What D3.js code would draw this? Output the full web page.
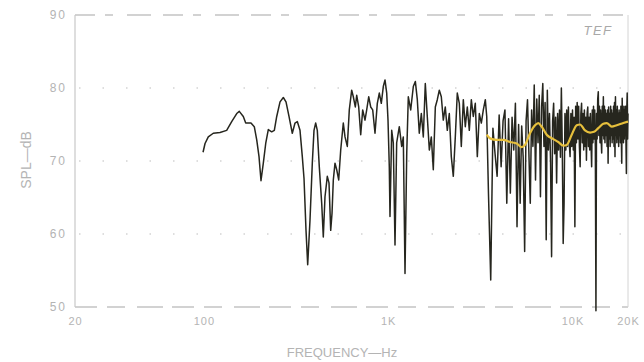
<!DOCTYPE html>
<html><head><meta charset="utf-8">
<script src="https://cdn.jsdelivr.net/npm/d3@7"></script>
<style>
html,body{margin:0;padding:0;background:#fff;}
svg{display:block;}
text{font-family:"Liberation Sans",Arial,sans-serif;}
</style></head>
<body><svg id="c" width="644" height="362"></svg>
<script>
// ---- data ----
const yTicks = [50, 60, 70, 80, 90];
const yTickLabels = ["50", "60", "70", "80", "90"];
const xTicks = [20, 100, 1000, 10000, 20000];
const xTickLabels = ["20", "100", "1K", "10K", "20K"];

// low/mid frequency response (Hz)
const lfFreq = [99,101.5,105.7,112.5,122.4,133,141.6,150.8,155.7,163.7,168.7,174.3,180.2,187.8,193.6,199.2,204.2,210.2,216.6,223.7,233.4,241.2,248.5,259,269.9,279.1,289.7,301.9,312.3,321.4,332.4,342.1,349.5,358.3,365.9,376.6,387.6,395.9,404.4,412.6,423,435.9,444.7,454.2,467.5,477.5,487.8,495.8,503.9,514.7,525.8,539,552.7,570.9,583.2,600.2,615.3,634,646.9,663.3,675,692,709.6,727.4,748.7,764.7,784.1,803.9,824.2,848.3,873,895.1,917.7,941,961.1,981.8,997.9,1014,1023,1045,1066,1089,1112,1149,1184,1208,1234,1261,1286,1325,1369,1404,1439,1475,1513,1551,1590,1630,1672,1714,1757,1802,1847,1894,1942,1991,2041,2093,2146,2200,2256,2313,2371,2432,2493,2556,2621,2687,2755,2825,2896,2969,3045,3122,3201,3282,3365,3425];
const lfDb = [71.2,72.4,73.3,73.8,73.9,74.2,75.4,76.5,76.8,76.1,75.2,75.2,75.2,74.7,72.9,70.6,67.3,69.7,72.4,74.3,74.0,74.2,76.1,78.1,78.7,78.1,76.1,73.8,75.2,75.4,74.2,70.6,67.6,60.5,55.8,61.9,69.7,74.2,75.2,74.2,69.2,64.2,59.6,65.1,67.9,67.0,60.5,62.8,67.4,69.7,68.8,67.4,71.5,75.2,73.3,72.0,77.0,79.7,78.8,77.4,79.0,77.4,73.6,77.0,75.6,77.0,78.8,77.4,77.0,73.8,77.9,79.3,77.9,80.2,81.1,79.3,75.6,69.2,62.4,74.2,72.5,58.5,72.5,74.7,72.0,73.3,54.6,71.1,78.8,77.0,80.2,80.9,78.4,73.8,76.5,73.3,80.6,76.1,71.5,73.3,68.8,77.4,78.4,79.7,78.8,75.6,77.4,74.2,76.5,70.6,67.9,73.3,79.3,77.9,72.0,78.4,74.7,77.4,74.2,78.4,76.1,77.9,70.6,76.5,75.2,77.0,78.4,76.1];

// high frequency response: linear sweep 3.5 kHz .. 20 kHz, 100 Hz step
const hfStartHz = 3500, hfStepHz = 100;
const hfDb = [
65.6,53.7,74.5,71.0,67.9,76.3,69.2,75.5,77.0,64.2,
75.8,65.6,76.0,71.5,77.9,61.0,75.0,64.2,74.8,70.5,
57.6,75.5,78.4,71.0,64.2,77.0,72.0,80.4,67.4,78.5,
72.5,79.0,65.1,77.5,80.6,72.0,78.0,59.2,79.7,71.5,
76.5,70.0,56.9,75.5,77.9,71.0,76.0,67.0,76.5,71.5,
77.0,70.5,80.0,72.0,58.7,64.2,76.5,71.5,77.0,72.0,
77.4,72.5,70.6,76.5,72.0,77.0,71.5,76.0,61.0,77.5,
72.5,78.0,73.0,77.5,72.0,69.2,76.5,77.9,72.5,76.5,
71.5,77.0,72.0,76.0,70.1,76.5,77.4,72.0,76.0,71.5,
76.5,72.5,69.2,77.0,72.5,77.5,73.0,77.0,72.0,49.5,
76.5,73.0,78.5,79.5,73.5,77.5,72.5,77.0,73.0,71.1,
77.5,73.5,78.8,73.0,77.5,72.5,77.0,73.5,76.5,72.0,
77.0,69.7,77.4,73.0,76.5,72.0,77.5,73.5,77.0,72.5,
76.5,73.0,77.5,72.0,78.0,70.6,78.8,73.5,77.0,72.5,
77.5,73.0,76.5,72.0,77.0,73.5,76.5,72.5,77.5,73.0,
69.7,78.6,73.5,77.0,72.5,77.5,73.0,77.0,73.5,77.5,
72.5,68.3,77.0,79.3,73.0,76.5];

// smoothed (yellow) curve
const avgFreq = [3423,3567,3879,4213,4580,4981,5302,5525,5883,6259,6522,6805,7244,7867,8375,8915,9302,9901,10540,10980,11690,12450,13080,13800,14690,15330,16320,17370,18860,20000];
const avgDb = [73.6,73.1,72.9,72.9,72.6,72.4,71.9,72.2,73.8,74.9,75.2,74.7,73.6,73.0,72.6,72.1,72.2,73.6,74.9,75.0,74.2,73.9,74.0,74.5,75.1,75.2,74.7,74.9,75.2,75.4];

// ---- drawing ----
const svg = d3.select("#c");
const L = 75, R = 628, T = 15, B = 307;
const x = d3.scaleLog().domain([20, 20000]).range([L, R]);
const y = d3.scaleLinear().domain([50, 90]).range([B, T]);
const faint = "#b4b4b4";

// grid (sparse dots)
svg.append("g").selectAll("line").data([60, 70, 80]).join("line")
  .attr("x1", L + 4).attr("x2", R).attr("y1", d => y(d)).attr("y2", d => y(d))
  .attr("stroke", "#bdbdbd").attr("stroke-width", 1.2).attr("stroke-dasharray", "1.5,22");

// frame
svg.append("line").attr("x1", L).attr("x2", R).attr("y1", T).attr("y2", T)
  .attr("stroke", "#c4c4c4").attr("stroke-width", 1.3).attr("stroke-dasharray", "20,10,8,14,24,12");
svg.append("line").attr("x1", L).attr("x2", R).attr("y1", B).attr("y2", B)
  .attr("stroke", "#c4c4c4").attr("stroke-width", 1.3).attr("stroke-dasharray", "22,10,18,12,26,9");
svg.append("line").attr("x1", L).attr("x2", L).attr("y1", T).attr("y2", B)
  .attr("stroke", "#c8c8c8").attr("stroke-width", 1.2);
svg.append("line").attr("x1", R).attr("x2", R).attr("y1", T).attr("y2", B)
  .attr("stroke", "#d4d4d4").attr("stroke-width", 1);

// axes
const yAxis = d3.axisLeft(y).tickValues(yTicks).tickSize(0).tickPadding(8)
  .tickFormat((d, i) => yTickLabels[i]);
const gy = svg.append("g").attr("transform", `translate(${L},0)`).call(yAxis);
gy.select(".domain").remove();
gy.selectAll("text").attr("fill", faint).style("font-size", "12px").style("letter-spacing", "2px");

const xAxis = d3.axisBottom(x).tickValues(xTicks).tickSize(0).tickPadding(10)
  .tickFormat((d, i) => xTickLabels[i]);
const gx = svg.append("g").attr("transform", `translate(0,${B})`).call(xAxis);
gx.select(".domain").remove();
gx.selectAll("text").attr("fill", faint).style("font-size", "11px").style("letter-spacing", "1px");

// titles
svg.append("text").attr("transform", "translate(31,160) rotate(-90)").attr("text-anchor", "middle")
  .attr("fill", faint).style("font-size", "14px").text("SPL—dB");
svg.append("text").attr("x", 342).attr("y", 357).attr("text-anchor", "middle")
  .attr("fill", faint).style("font-size", "13px").text("FREQUENCY—Hz");
svg.append("text").attr("x", 598).attr("y", 35).attr("text-anchor", "middle")
  .attr("fill", "#a8a8a8").style("font-size", "13px").style("font-style", "italic")
  .style("letter-spacing", "1.5px").text("TEF");

// response curve
const lf = lfFreq.map((f, i) => [f, lfDb[i]]);
const hf = hfDb.map((v, i) => [hfStartHz + i * hfStepHz, v]);
const line = d3.line().x(d => x(d[0])).y(d => y(d[1]));
svg.append("path").datum(lf.concat(hf)).attr("d", line)
  .attr("fill", "none").attr("stroke", "#26261e").attr("stroke-width", 1.5)
  .attr("stroke-linejoin", "round");

// smoothed curve
const avg = avgFreq.map((f, i) => [f, avgDb[i]]);
svg.append("path").datum(avg).attr("d", d3.line().curve(d3.curveMonotoneX).x(d => x(d[0])).y(d => y(d[1])))
  .attr("fill", "none").attr("stroke", "#e6bf3c").attr("stroke-width", 2.2);
</script></body></html>
